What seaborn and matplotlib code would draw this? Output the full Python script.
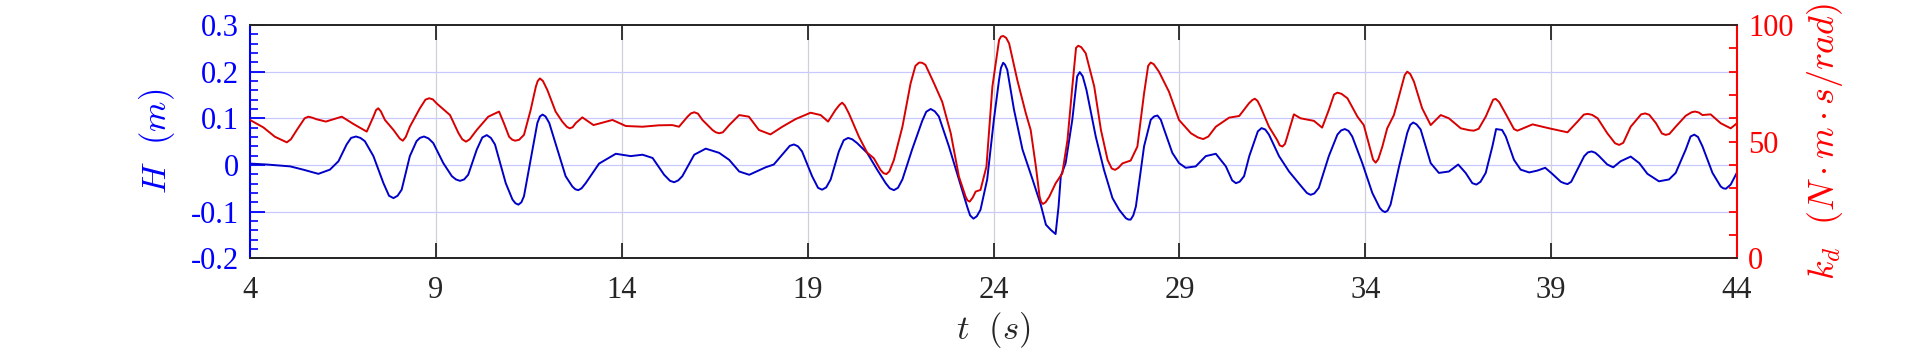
import numpy as np
import pandas as pd
import matplotlib
matplotlib.use("Agg")
import matplotlib.pyplot as plt
import seaborn as sns

# ---- data ----
t_H = [4.00, 4.45, 5.08, 5.43, 5.84, 6.15, 6.38, 6.60, 6.85, 7.09, 7.32, 7.59, 7.86, 8.08, 8.30,
       8.48, 8.68, 8.93, 9.20, 9.43, 9.65, 9.87, 10.10, 10.37, 10.59, 10.73, 10.88, 11.06, 11.22,
       11.37, 11.55, 11.73, 11.87, 12.05, 12.27, 12.49, 12.67, 12.83, 13.03, 13.39, 13.84, 14.24,
       14.56, 14.83, 15.14, 15.41, 15.63, 15.95, 16.26, 16.62, 16.89, 17.16, 17.43, 17.87, 18.09,
       18.36, 18.63, 18.85, 19.12, 19.39, 19.62, 19.84, 20.09, 20.33, 20.60, 20.87, 21.10, 21.32,
       21.55, 21.81, 22.08, 22.31, 22.53, 22.80, 23.07, 23.29, 23.46, 23.65, 23.83, 24.01, 24.15,
       24.26, 24.37, 24.55, 24.78, 25.05, 25.27, 25.41, 25.54, 25.67, 25.75, 25.81, 25.94, 26.12,
       26.32, 26.50, 26.75, 26.97, 27.20, 27.38, 27.56, 27.69, 27.83, 28.05, 28.23, 28.41, 28.59,
       28.81, 28.99, 29.17, 29.44, 29.71, 29.98, 30.25, 30.52, 30.74, 30.88, 31.00, 31.21, 31.41,
       31.68, 31.95, 32.26, 32.53, 32.75, 33.02, 33.25, 33.45, 33.65, 33.92, 34.19, 34.39, 34.53,
       34.68, 34.91, 35.13, 35.29, 35.49, 35.76, 35.98, 36.25, 36.50, 36.70, 36.99, 37.24, 37.42,
       37.60, 37.78, 38.00, 38.18, 38.41, 38.63, 38.84, 39.03, 39.26, 39.44, 39.66, 39.89, 40.09,
       40.29, 40.51, 40.67, 40.87, 41.14, 41.37, 41.59, 41.90, 42.17, 42.35, 42.62, 42.85, 43.07,
       43.34, 43.56, 43.70, 43.83, 44.00,
       # points read close to the crests and troughs
       6.72, 6.97, 7.74, 7.97, 8.57, 8.80, 9.54, 9.76, 10.25, 10.48, 11.14, 11.30, 11.80, 11.95,
       12.75, 12.92, 15.30, 15.52, 18.52, 18.74, 19.28, 19.50, 19.97, 20.20, 21.21, 21.43, 22.19,
       22.42, 23.37, 23.55, 24.20, 24.31, 26.25, 26.40, 27.63, 27.76, 28.32, 28.50, 30.42, 30.62,
       31.11, 31.31, 32.43, 32.63, 33.35, 33.55, 34.46, 34.60, 35.21, 35.38, 36.88, 37.10, 37.52,
       37.68, 39.35, 39.54, 39.99, 40.19, 42.75, 42.95, 43.63]
H = [0.003, 0.001, -0.003, -0.010, -0.019, -0.010, 0.008, 0.044, 0.061, 0.051, 0.019, -0.039,
     -0.071, -0.053, 0.019, 0.051, 0.061, 0.047, 0.004, -0.024, -0.034, -0.021, 0.033, 0.064,
     0.044, 0.004, -0.039, -0.074, -0.085, -0.067, 0.011, 0.090, 0.108, 0.090, 0.033, -0.024,
     -0.046, -0.054, -0.039, 0.003, 0.024, 0.019, 0.022, 0.015, -0.021, -0.037, -0.024, 0.022,
     0.035, 0.026, 0.011, -0.014, -0.021, -0.005, 0.001, 0.026, 0.044, 0.029, -0.024, -0.053,
     -0.031, 0.029, 0.058, 0.047, 0.026, -0.010, -0.039, -0.054, -0.031, 0.033, 0.094, 0.120,
     0.104, 0.040, -0.031, -0.089, -0.115, -0.096, -0.031, 0.097, 0.183, 0.219, 0.204, 0.119,
     0.033, -0.031, -0.085, -0.128, -0.139, -0.148, -0.089, -0.024, 0.004, 0.097, 0.199, 0.161,
     0.061, -0.010, -0.071, -0.096, -0.114, -0.117, -0.089, 0.040, 0.097, 0.106, 0.076, 0.026,
     0.004, -0.006, -0.003, 0.019, 0.024, -0.003, -0.039, -0.024, 0.019, 0.047, 0.079, 0.065,
     0.019, -0.014, -0.044, -0.064, -0.049, 0.019, 0.065, 0.077, 0.061, 0.004, -0.060, -0.092,
     -0.101, -0.085, -0.003, 0.069, 0.091, 0.076, 0.004, -0.017, -0.014, 0.001, -0.017, -0.042,
     -0.017, 0.040, 0.076, 0.061, 0.011, -0.010, -0.016, -0.012, -0.006, -0.019, -0.036, -0.041,
     -0.017, 0.019, 0.029, 0.019, 0.001, -0.005, 0.008, 0.018, 0.004, -0.019, -0.035, -0.031,
     -0.017, 0.033, 0.065, 0.040, -0.017, -0.046, -0.051, -0.042, -0.016,
     0.058, 0.058, -0.066, -0.066, 0.058, 0.057, -0.031, -0.031, 0.059, 0.058, -0.082, -0.080,
     0.104, 0.104, -0.052, -0.050, -0.034, -0.033, 0.041, 0.040, -0.049, -0.048, 0.053, 0.055,
     -0.050, -0.049, 0.114, 0.115, -0.108, -0.110, 0.208, 0.215, 0.190, 0.190, -0.117, -0.108,
     0.104, 0.097, -0.033, -0.036, 0.072, 0.076, -0.060, -0.061, 0.074, 0.073, -0.098, -0.098,
     0.086, 0.087, -0.039, -0.036, 0.077, 0.075, -0.039, -0.036, 0.027, 0.026, 0.061, 0.060,
     -0.050]

t_k = [4.00, 4.36, 4.67, 4.99, 5.26, 5.57, 5.79, 6.04, 6.47, 6.78, 7.14, 7.32, 7.45, 7.63, 7.86,
       8.11, 8.30, 8.57, 8.82, 9.02, 9.38, 9.61, 9.81, 10.10, 10.41, 10.70, 10.83, 10.97, 11.13,
       11.37, 11.55, 11.69, 11.80, 12.00, 12.22, 12.40, 12.60, 12.76, 12.94, 13.24, 13.75, 14.11,
       14.56, 15.00, 15.36, 15.54, 15.77, 15.95, 16.17, 16.44, 16.62, 16.89, 17.16, 17.42, 17.69,
       18.00, 18.32, 18.68, 19.08, 19.35, 19.55, 19.75, 19.93, 20.11, 20.38, 20.60, 20.78, 20.96,
       21.12, 21.32, 21.55, 21.77, 22.00, 22.17, 22.40, 22.62, 22.85, 23.07, 23.25, 23.36, 23.52,
       23.65, 23.81, 23.97, 24.15, 24.26, 24.42, 24.64, 24.87, 25.00, 25.14, 25.24, 25.33, 25.50,
       25.67, 25.85, 25.99, 26.12, 26.28, 26.48, 26.71, 26.89, 27.07, 27.27, 27.47, 27.69, 27.87,
       28.05, 28.23, 28.45, 28.72, 28.99, 29.31, 29.64, 29.98, 30.34, 30.61, 30.87, 31.03, 31.18,
       31.41, 31.63, 31.77, 31.90, 32.08, 32.26, 32.62, 32.84, 33.02, 33.25, 33.52, 33.79, 33.96,
       34.14, 34.28, 34.46, 34.59, 34.77, 34.95, 35.13, 35.31, 35.53, 35.76, 36.03, 36.25, 36.57,
       36.92, 37.24, 37.51, 37.82, 38.09, 38.50, 38.95, 39.44, 39.71, 39.98, 40.25, 40.51, 40.83,
       41.14, 41.53, 41.82, 42.08, 42.35, 42.62, 42.87, 43.07, 43.29, 43.56, 43.83, 44.00,
       # points read close to the crests and troughs
       4.88, 5.10, 5.47, 5.67, 7.39, 7.52, 8.03, 8.19, 8.72, 8.92, 9.71, 9.91, 11.05, 11.24,
       11.74, 11.88, 12.52, 12.68, 15.86, 16.05, 16.53, 16.72, 19.86, 20.00, 21.04, 21.20, 21.90,
       22.08, 23.30, 23.44, 24.20, 24.34, 25.28, 25.40, 26.22, 26.36, 27.18, 27.36, 28.16, 28.31,
       29.50, 29.78, 30.96, 31.10, 31.70, 31.84, 33.16, 33.36, 34.21, 34.35, 35.06, 35.21, 36.80,
       37.05, 37.44, 37.60, 38.00, 38.20, 39.88, 40.10, 40.72, 40.94, 41.42, 41.64, 41.98, 42.18,
       42.78, 42.97]
kd = [59.3, 56.1, 52.1, 49.7, 55.0, 60.7, 59.6, 58.6, 60.7, 57.6, 54.3, 60.7, 64.3, 59.3, 55.0,
      50.4, 56.4, 64.3, 68.6, 66.4, 61.4, 53.6, 50.0, 55.0, 60.7, 62.9, 57.9, 52.1, 50.4, 52.9,
      63.6, 73.6, 77.1, 72.1, 62.9, 58.6, 55.7, 57.9, 60.4, 57.1, 59.3, 56.7, 56.4, 57.0, 57.1,
      56.4, 60.7, 62.6, 59.3, 55.0, 53.6, 57.1, 61.4, 60.7, 55.0, 53.1, 56.4, 59.7, 62.4, 61.4,
      58.6, 63.6, 66.7, 62.1, 52.1, 45.3, 42.9, 37.9, 36.1, 42.1, 56.4, 75.0, 83.9, 82.9, 75.0,
      67.1, 53.6, 35.0, 26.4, 24.3, 28.6, 29.3, 39.3, 73.6, 93.6, 95.3, 92.1, 76.4, 62.1, 55.0,
      39.3, 26.4, 23.3, 26.4, 32.1, 36.4, 50.7, 73.6, 91.1, 87.9, 73.6, 55.0, 42.1, 37.9, 40.7,
      41.9, 47.9, 70.7, 83.9, 80.0, 71.4, 59.3, 53.6, 51.1, 56.4, 60.3, 61.0, 66.4, 68.4, 65.0,
      56.4, 50.7, 47.9, 52.1, 61.7, 60.0, 58.9, 56.0, 63.6, 71.0, 68.6, 60.7, 57.1, 46.4, 41.0,
      47.9, 55.7, 61.4, 72.1, 80.0, 75.7, 64.3, 57.1, 61.4, 60.0, 55.7, 54.7, 60.7, 68.3, 60.7,
      54.7, 57.4, 55.7, 54.0, 58.6, 61.9, 60.0, 53.6, 48.6, 56.4, 62.1, 57.9, 52.9, 56.4, 61.1,
      62.9, 61.4, 61.7, 57.9, 55.7, 57.9,
      50.5, 51.0, 60.0, 60.3, 63.5, 63.0, 51.3, 52.0, 68.0, 68.1, 51.0, 51.0, 50.9, 50.8,
      76.0, 76.0, 56.4, 56.2, 62.1, 62.0, 54.0, 54.0, 65.8, 65.5, 36.5, 37.3, 82.5,
      83.8, 24.8, 26.0, 95.0, 94.5, 24.2, 24.0, 90.2, 90.5, 38.5, 38.8, 82.5, 83.2,
      51.8, 52.2, 67.8, 67.5, 48.4, 49.0, 70.2, 70.5, 42.3, 42.5, 78.5, 79.0, 54.9,
      55.5, 68.0, 67.0, 55.4, 55.4, 61.6, 61.5, 49.3, 49.5, 61.7, 61.5, 53.5, 53.3,
      62.6, 62.5]

x_ticks = [4, 9, 14, 19, 24, 29, 34, 39, 44]
left_ticks = [-0.2, -0.1, 0, 0.1, 0.2, 0.3]
left_tick_labels = ["-0.2", "-0.1", "0", "0.1", "0.2", "0.3"]
right_ticks = [0, 50, 100]

df_H = pd.DataFrame({"t": t_H, "H": H}).sort_values("t")
df_k = pd.DataFrame({"t": t_k, "kd": kd}).sort_values("t")

sns.set_style("white")
plt.rcParams["font.family"] = ["Liberation Serif", "DejaVu Serif"]
plt.rcParams["mathtext.fontset"] = "cm"

BLUE_LINE = "#0000c8"
RED_LINE = "#d80000"
BLUE_AX = "#0000ff"
RED_AX = "#ff0000"
DARK = "#262626"

fig = plt.figure(figsize=(19.2, 3.51), dpi=100)
ax = fig.add_axes([0.1302, 0.2641, 0.9047 - 0.1302, 0.9288 - 0.2641])
ax2 = ax.twinx()

sns.lineplot(data=df_H, x="t", y="H", ax=ax, color=BLUE_LINE, linewidth=1.4, sort=True,
             estimator=None)
sns.lineplot(data=df_k, x="t", y="kd", ax=ax2, color=RED_LINE, linewidth=1.4, sort=True,
             estimator=None)
for a in (ax, ax2):
    for ln in a.get_lines():
        ln.set_solid_joinstyle("round")

ax.set_xlim(4, 44)
ax.set_ylim(-0.2, 0.3)
ax2.set_ylim(0, 100)

ax.set_xticks(x_ticks)
ax.set_xticklabels([str(v) for v in x_ticks])
ax.set_yticks(left_ticks)
ax.set_yticklabels(left_tick_labels)
ax.set_yticks(np.arange(-0.2, 0.3001, 0.02), minor=True)
ax2.set_yticks(np.arange(0, 101, 10))
ax2.set_yticklabels([str(v) if v in right_ticks else "" for v in range(0, 101, 10)])

# grid
ax.grid(False)
ax2.grid(False)
for yv in [-0.1, 0, 0.1, 0.2]:
    ax.axhline(yv, color="#c8c8ff", linewidth=0.9, zorder=0)
for xv in x_ticks[1:-1]:
    ax.axvline(xv, color="#d0d0dc", linewidth=0.9, zorder=0)

# spines
for a in (ax, ax2):
    a.spines["top"].set_color(DARK)
    a.spines["bottom"].set_color(DARK)
    a.spines["top"].set_linewidth(1.3)
    a.spines["bottom"].set_linewidth(1.3)
ax.spines["left"].set_color(BLUE_AX)
ax.spines["left"].set_linewidth(1.5)
ax2.spines["left"].set_visible(False)
ax.spines["right"].set_visible(False)
ax2.spines["right"].set_color(RED_AX)
ax2.spines["right"].set_linewidth(1.5)

ax.tick_params(axis="x", which="major", direction="in", top=True, bottom=True, length=11,
               width=1.3, color=DARK, labelcolor=DARK, labelsize=22, pad=13)
ax.tick_params(axis="y", which="major", direction="in", left=True, right=False, length=11,
               width=1.3, color=BLUE_AX, labelcolor=BLUE_AX, labelsize=22, pad=8)
ax.tick_params(axis="y", which="minor", direction="in", left=True, right=False, length=6,
               width=1.2, color=BLUE_AX)
ax2.tick_params(axis="y", which="major", direction="in", right=True, left=False, length=6,
                width=1.3, color=RED_AX, labelcolor=RED_AX, labelsize=22, pad=8)

ax.set_xlabel(r"$t\ \ (s)$", fontsize=25, color=DARK, labelpad=3)
ax.set_ylabel(r"$H\ \ (m)$", fontsize=25, color=BLUE_AX, labelpad=10)
ax2.set_ylabel(r"$k_d\ \ (N\cdot m\cdot s/rad)$", fontsize=26, color=RED_AX, labelpad=8)

fig.savefig("out.png", dpi=100, facecolor="white")
